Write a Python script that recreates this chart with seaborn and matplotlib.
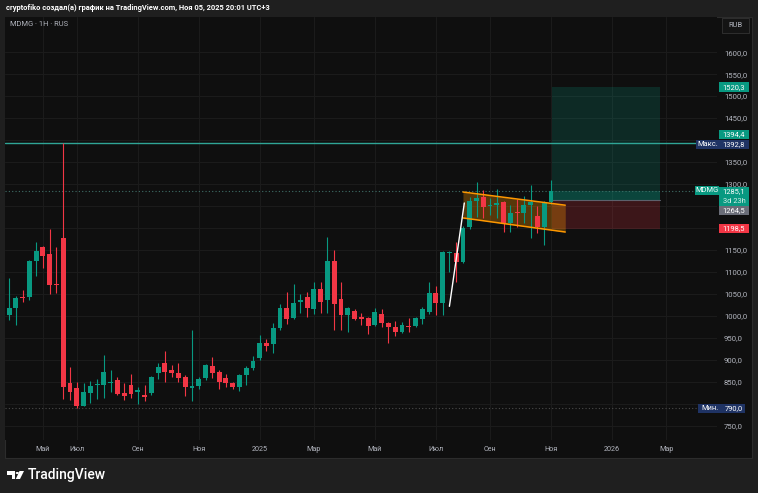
import numpy as np
import pandas as pd
import matplotlib
matplotlib.use("Agg")
import matplotlib.pyplot as plt
from matplotlib.patches import Rectangle, Polygon, Circle
import seaborn as sns

# weekly candles, MDMG
opens = [1002, 1018, 1044, 1043, 1125, 1157, 1141, 1072, 1177, 848,
         836, 795, 825, 843, 843, 848, 855, 825, 843, 827,
         820, 825, 870, 893, 877, 870, 861, 836, 841, 859,
         886, 873, 859, 848, 839, 866, 882, 905, 939, 936,
         973, 1018, 995, 1032, 1043, 1016, 1061, 1036, 1125, 1039,
         1002, 1011, 998, 995, 980, 1005, 984, 975, 964, 978,
         977, 993, 1009, 1052, 1030, 1143, 1143, 1123, 1202, 1261,
         1270, 1250, 1252, 1259, 1211, 1236, 1234, 1252, 1227, 1202,
         1259]
highs = [1086, 1045, 1059, 1127, 1168, 1160, 1198, 1157, 1392.8, 884,
         850, 848, 852, 857, 911, 877, 861, 848, 868, 839,
         843, 863, 893, 920, 888, 893, 866, 968, 861, 891,
         907, 877, 868, 850, 868, 886, 909, 957, 948, 984,
         1027, 1055, 1073, 1050, 1055, 1077, 1077, 1180, 1150, 1077,
         1020, 1016, 1007, 998, 1018, 1016, 986, 989, 986, 995,
         998, 1020, 1077, 1068, 1148, 1148, 1168, 1205, 1270, 1305,
         1286, 1268, 1289, 1262, 1252, 1266, 1273, 1298, 1250, 1262,
         1309]
lows = [991, 980, 1032, 1036, 1091, 1109, 1050, 1052, 811, 809,
        790, 795, 802, 811, 813, 827, 820, 809, 813, 800,
        807, 820, 857, 850, 861, 850, 818, 807, 834, 855,
        859, 834, 839, 834, 830, 843, 877, 900, 920, 916,
        968, 982, 993, 1007, 998, 1005, 1007, 1007, 968, 968,
        964, 990, 980, 959, 977, 975, 939, 955, 961, 964,
        975, 982, 1005, 1002, 1002, 1100, 1077, 1120, 1198, 1225,
        1223, 1230, 1223, 1191, 1191, 1202, 1211, 1177, 1189, 1161,
        1255]
closes = [1018, 1041, 1040, 1125, 1148, 1136, 1070, 1070, 839, 827,
          795, 827, 841, 845, 873, 850, 823, 818, 823, 832,
          816, 861, 884, 873, 870, 859, 839, 841, 857, 889,
          870, 850, 848, 839, 866, 882, 898, 939, 932, 973,
          1018, 993, 1030, 1036, 1018, 1061, 1032, 1125, 1027, 1002,
          1018, 993, 993, 977, 1009, 984, 975, 964, 980, 976,
          995, 1016, 1052, 1030, 1145, 1145, 1123, 1200, 1261, 1268,
          1248, 1252, 1257, 1211, 1234, 1234, 1252, 1259, 1202, 1257,
          1285.1]

month_pos = [5, 10, 19, 28, 37, 45, 54, 63, 71, 80, 89, 97]
month_labels = ["Май", "Июл", "Сен", "Ноя", "2025", "Мар",
                "Май", "Июл", "Сен", "Ноя", "2026", "Мар"]
price_ticks = list(range(750, 1601, 50))
hidden_ticks = [800, 1200, 1250, 1400]   # covered by the price tags

# drawings
channel_x = [67.0, 82.1]
channel_top = [1282, 1252]
channel_bot = [1223, 1191]
impulse_x = [65.0, 67.2]
impulse_y = [1022, 1257]
position_x = [80.15, 96.1]
target_price = 1520.3
entry_price = 1264.5
stop_price = 1198.5
hline_price = 1394.4
max_price = 1392.8
min_price = 790.0
last_price = 1285.1

UP = "#089981"
DOWN = "#f23645"
TXT = "#b2b5be"
NAVY = "#1f3364"
W, H = 758, 493

sns.set_theme(style="dark", rc={"axes.facecolor": "#0f0f0f",
                                "figure.facecolor": "#1f1f1f"})
plt.rcParams['font.family'] = ['Roboto', 'DejaVu Sans']

df = pd.DataFrame({"open": opens, "high": highs, "low": lows, "close": closes})
df["x"] = np.arange(len(df))
df["up"] = df["close"] >= df["open"]
df["color"] = np.where(df["up"], UP, DOWN)
df["bottom"] = df[["open", "close"]].min(axis=1)
df["body"] = (df["close"] - df["open"]).abs().clip(lower=1.8)

fig = plt.figure(figsize=(W / 100, H / 100), dpi=100)
fig.patches.append(Rectangle((5 / W, 1 - 458 / H), 747 / W, 441 / H,
                             transform=fig.transFigure, facecolor="#0f0f0f",
                             edgecolor="#2c2c2c", lw=0.8, zorder=-1))
ax = fig.add_axes([5 / W, 1 - 440 / H, 712 / W, 423 / H])
ax.set_facecolor("#0f0f0f")
ax.set_xlim(-0.6, 104.5)
ax.set_ylim(718, 1680)

fmt = lambda v: f"{v:.1f}".replace(".", ",")
ax.set_yticks(price_ticks)
ax.set_yticklabels(["" if v in hidden_ticks else fmt(v) for v in price_ticks])
ax.yaxis.tick_right()
ax.set_xticks(month_pos)
ax.set_xticklabels(month_labels)
ax.tick_params(axis="y", length=0, pad=5, labelsize=5.6, colors=TXT)
ax.tick_params(axis="x", length=0, pad=4, labelsize=5.2, colors=TXT)
ax.grid(True, color="#1c1c1c", lw=0.7)
for s in ax.spines.values():
    s.set_visible(False)

# position tool
x0, x1 = position_x
ax.add_patch(Rectangle((x0, entry_price), x1 - x0, target_price - entry_price,
                       facecolor=UP, alpha=0.2, lw=0, zorder=1))
ax.add_patch(Rectangle((x0, entry_price), x1 - x0, last_price - entry_price,
                       facecolor=UP, alpha=0.25, lw=0, zorder=1))
ax.add_patch(Rectangle((x0, stop_price), x1 - x0, entry_price - stop_price,
                       facecolor=DOWN, alpha=0.2, lw=0, zorder=1))
ax.plot(position_x, [entry_price] * 2, color="#5d606b", lw=0.8, zorder=1)

# horizontal levels
ax.axhline(hline_price, color="#2fa596", lw=1.0, zorder=1)
ax.axhline(last_price, color="#3f6f68", lw=0.8, ls=(0, (1, 2)), zorder=1)
ax.axhline(min_price, color="#4a4a4a", lw=0.8, ls=(0, (1, 2)), zorder=1)

# channel
ax.fill_between(channel_x, channel_bot, channel_top, color="#ff9800",
                alpha=0.3, lw=0, zorder=2)
ax.plot(channel_x, channel_top, color="#ff9800", lw=1.1, zorder=4)
ax.plot(channel_x, channel_bot, color="#ff9800", lw=1.1, zorder=4)

# candles
ax.vlines(df["x"], df["low"], df["high"], colors=df["color"], lw=0.8, zorder=3)
ax.bar(df["x"], df["body"], bottom=df["bottom"], width=0.72,
       color=df["color"], lw=0, zorder=3)

ax.plot(impulse_x, impulse_y, color="white", lw=1.0, zorder=4)


def py(price):
    return H - ax.transData.transform((0, price))[1]


def tag(text, yc, xa, xb, fc, h=9.5, tc="white", fs=5.4):
    fig.patches.append(Rectangle((xa / W, 1 - (yc + h / 2) / H), (xb - xa) / W, h / H,
                                 transform=fig.transFigure, facecolor=fc,
                                 edgecolor="none", zorder=5))
    fig.text((xa + xb) / 2 / W, 1 - yc / H, text, color=tc, fontsize=fs,
             ha="center", va="center", zorder=6)


tag(fmt(target_price), py(target_price), 719, 749, UP)
tag(fmt(hline_price), py(hline_price) - 8, 719, 749, UP)
tag("Макс.", py(max_price) + 1, 696, 719, NAVY)
tag(fmt(max_price), py(max_price) + 1, 719, 749, NAVY)
tag("MDMG", py(last_price), 695, 719, UP)
fig.patches.append(Rectangle((719 / W, 1 - 206 / H), 30 / W, 19 / H,
                             transform=fig.transFigure, facecolor=UP,
                             edgecolor="none", zorder=5))
fig.text(734 / W, 1 - 192 / H, fmt(last_price), color="white", fontsize=5.4,
         ha="center", va="center", zorder=6)
fig.text(734 / W, 1 - 201.5 / H, "3d 23h", color="#d8f0ea", fontsize=5.4,
         ha="center", va="center", zorder=6)
tag(fmt(entry_price), 210.5, 719, 749, "#6a6d78")
tag(fmt(stop_price), py(stop_price), 719, 749, DOWN)
tag("Мин.", py(min_price), 698, 722, NAVY)
tag(fmt(min_price), py(min_price), 722, 745, NAVY)

# RUB box
fig.patches.append(Rectangle((722 / W, 1 - 33 / H), 27 / W, 15 / H,
                             transform=fig.transFigure, facecolor="#141414",
                             edgecolor="#333333", lw=0.6, zorder=5))
fig.text(735.5 / W, 1 - 25.5 / H, "RUB", color=TXT, fontsize=5.4,
         ha="center", va="center", zorder=6)

# header & legend
fig.text(6 / W, 1 - 8 / H,
         "cryptofiko создал(а) график на TradingView.com, Ноя 05, 2025 20:01 UTC+3",
         color="white", fontsize=5.4, fontweight="bold", va="center")
fig.text(10 / W, 1 - 25 / H, "MDMG · 1H · RUS", color=TXT, fontsize=5.4,
         va="center")

# TradingView logo
def pix(pts):
    return [(x / W, 1 - y / H) for x, y in pts]


fig.patches.append(Polygon(pix([(7, 471), (15, 471), (15, 479), (12, 479),
                                (12, 474.5), (7, 474.5)]),
                           closed=True, transform=fig.transFigure,
                           facecolor="white", edgecolor="none"))
fig.patches.append(Circle((17.3 / W, 1 - 473 / H), 1.6 / W,
                          transform=fig.transFigure, facecolor="white",
                          edgecolor="none"))
fig.patches.append(Polygon(pix([(19.5, 471), (24, 471), (20, 479), (15.8, 479)]),
                           closed=True, transform=fig.transFigure,
                           facecolor="white", edgecolor="none"))
fig.text(28 / W, 1 - 475 / H, "TradingView", color="white", fontsize=10,
         va="center", fontweight="medium")

fig.savefig("out.png", dpi=100)
